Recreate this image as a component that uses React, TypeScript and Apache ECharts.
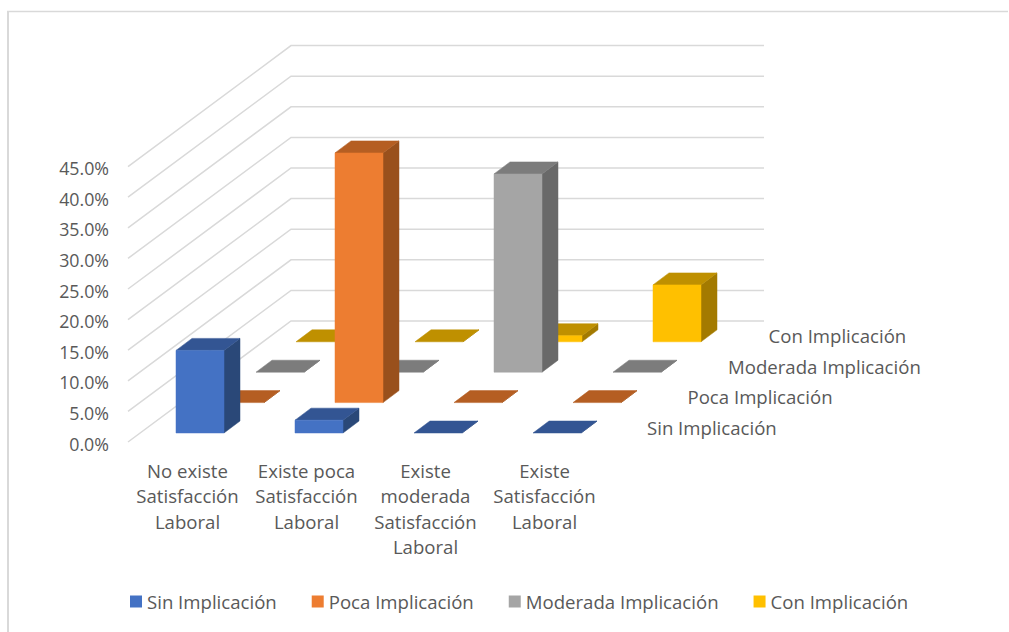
import React, { useEffect, useRef } from "react";
import * as echarts from "echarts";

const categories = [
  "No existe\nSatisfacción\nLaboral",
  "Existe poca\nSatisfacción\nLaboral",
  "Existe\nmoderada\nSatisfacción\nLaboral",
  "Existe\nSatisfacción\nLaboral",
];
const sinImplicacion = [13.5, 2.1, 0, 0];
const pocaImplicacion = [0, 40.8, 0, 0];
const moderadaImplicacion = [0, 0, 32.4, 0];
const conImplicacion = [0, 0, 1.0, 9.3];
const depthNames = ["Sin Implicación", "Poca Implicación", "Moderada Implicación", "Con Implicación"];
const yTicks = [0, 5, 10, 15, 20, 25, 30, 35, 40, 45];

const FONT = '"Open Sans", sans-serif';
const TEXT = "#595959";
const GRID_LINE = "#d9d9d9";
const LABEL_SIZE = 18.6;

// Oblique projection of the depth axis, in pixels
const ROW_DX = 40;
const ROW_DY = -30.4;
const WALL_DX = 163;
const WALL_DY = -121;
const BAR_W = 48;
const BAR_DX = 16;
const BAR_DY = -12;
const BAR_SHIFT_X = -11.5;
// The plot floor sits a little above the axis zero, where its tick label is centred
const FLOOR_LIFT = 1.5;
const BAR_SHIFT_Y = -9 - FLOOR_LIFT;

type Shades = { front: string; top: string; side: string };
const shades: Shades[] = [
  { front: "#4472C4", top: "#335593", side: "#2A4878" },
  { front: "#ED7D31", top: "#B55E22", side: "#99501C" },
  { front: "#A5A5A5", top: "#7C7C7C", side: "#696969" },
  { front: "#FFC000", top: "#BF9000", side: "#A37A00" },
];

function barSeries(row: number, values: number[]) {
  const c = shades[row];
  return {
    type: "custom",
    name: depthNames[row],
    coordinateSystem: "cartesian2d",
    z: 10 - row,
    itemStyle: { color: c.front },
    encode: { x: 0, y: 1 },
    data: values.map((v, i) => [i, v]),
    renderItem: (_: any, api: any) => {
      const base = api.coord([api.value(0), 0]);
      const head = api.coord([api.value(0), api.value(1)]);
      const x0 = base[0] + BAR_SHIFT_X + row * ROW_DX;
      const x1 = x0 + BAR_W;
      const yb = base[1] + BAR_SHIFT_Y + row * ROW_DY;
      const yt = yb - (base[1] - head[1]);
      const poly = (points: number[][], fill: string) => ({
        type: "polygon",
        shape: { points },
        style: { fill, stroke: fill, lineWidth: 0.5 },
      });
      return {
        type: "group",
        children: [
          poly([[x1, yb], [x1 + BAR_DX, yb + BAR_DY], [x1 + BAR_DX, yt + BAR_DY], [x1, yt]], c.side),
          poly([[x0, yt], [x1, yt], [x1 + BAR_DX, yt + BAR_DY], [x0 + BAR_DX, yt + BAR_DY]], c.top),
          ...(yb - yt > 0.5 ? [poly([[x0, yb], [x1, yb], [x1, yt], [x0, yt]], c.front)] : []),
        ],
      };
    },
  };
}

export default function App() {
  const ref = useRef<HTMLDivElement>(null);

  useEffect(() => {
    const chart = echarts.init(ref.current!, null, { renderer: "svg" });
    chart.setOption({
      animation: false,
      backgroundColor: "#ffffff",
      textStyle: { fontFamily: FONT },
      grid: { left: 128, top: 168.1, width: 476, height: 275.4 },
      xAxis: {
        type: "category",
        data: categories,
        axisLine: { show: false },
        axisTick: { show: false },
        splitLine: { show: false },
        axisLabel: {
          color: TEXT,
          fontFamily: FONT,
          fontSize: LABEL_SIZE,
          lineHeight: 25.5,
          margin: 14,
          interval: 0,
        },
      },
      yAxis: {
        type: "value",
        min: 0,
        max: 45,
        interval: 5,
        axisLine: { show: false },
        axisTick: { show: false },
        splitLine: { show: false },
        axisLabel: {
          color: TEXT,
          fontFamily: FONT,
          fontSize: 17.8,
          margin: 19,
          formatter: (v: number) => v.toFixed(1) + "%",
        },
      },
      legend: {
        data: depthNames,
        left: 130,
        top: 592,
        padding: 0,
        icon: "rect",
        itemWidth: 12,
        itemHeight: 12,
        itemGap: 35,
        selectedMode: false,
        textStyle: { color: TEXT, fontFamily: FONT, fontSize: LABEL_SIZE },
      },
      graphic: [
        { type: "line", shape: { x1: 8, y1: 11, x2: 8, y2: 632 }, style: { stroke: GRID_LINE, lineWidth: 2 } },
        { type: "line", shape: { x1: 7, y1: 11.5, x2: 1008, y2: 11.5 }, style: { stroke: GRID_LINE, lineWidth: 1.5 } },
      ],
      series: [
        {
          // Side and back walls: one bent gridline per tick
          type: "custom",
          name: "walls",
          coordinateSystem: "cartesian2d",
          silent: true,
          z: 1,
          data: yTicks.map((t) => [0, t]),
          encode: { x: 0, y: 1 },
          renderItem: (params: any, api: any) => {
            const p = api.coord([0, api.value(1)]);
            const left = params.coordSys.x;
            const frontY = p[1] - FLOOR_LIFT;
            const backX = left + WALL_DX;
            const backY = frontY + WALL_DY;
            return {
              type: "polyline",
              shape: { points: [[left, frontY], [backX, backY], [backX + 473, backY]] },
              style: { fill: "none", stroke: GRID_LINE, lineWidth: 1.5 },
            };
          },
        },
        barSeries(3, conImplicacion),
        barSeries(2, moderadaImplicacion),
        barSeries(1, pocaImplicacion),
        barSeries(0, sinImplicacion),
        {
          // Names along the depth axis, right of the last category
          type: "custom",
          name: "depth",
          coordinateSystem: "cartesian2d",
          silent: true,
          z: 11,
          data: depthNames.map((_, i) => [3, 0, i]),
          encode: { x: 0, y: 1 },
          renderItem: (_: any, api: any) => {
            const row = api.value(2);
            const p = api.coord([3, 0]);
            return {
              type: "text",
              x: p[0] + 102.5 + row * 40.5,
              y: p[1] - 15 - FLOOR_LIFT + row * ROW_DY,
              style: {
                text: depthNames[row],
                fill: TEXT,
                font: `${LABEL_SIZE}px ${FONT}`,
                textAlign: "left",
                textVerticalAlign: "middle",
              },
            };
          },
        },
      ],
    });
    return () => chart.dispose();
  }, []);

  return (
    <div
      ref={ref}
      style={{ position: "absolute", left: 0, top: 0, width: 1009, height: 632 }}
    />
  );
}
